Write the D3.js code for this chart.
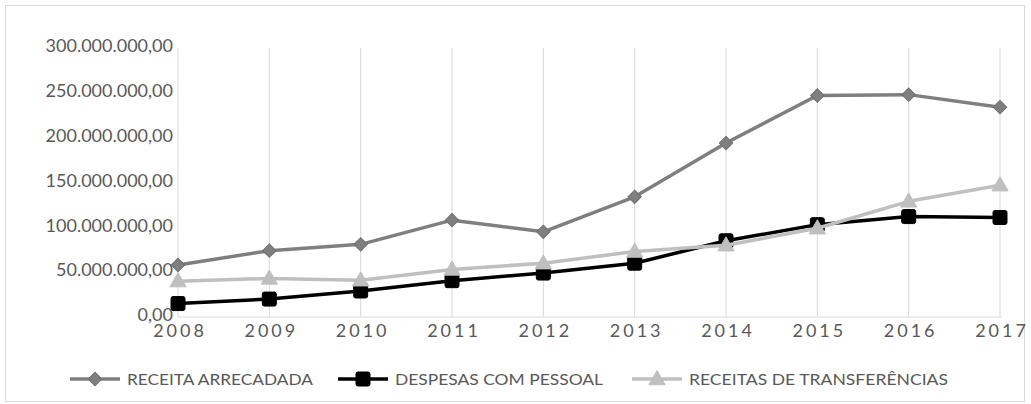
<!DOCTYPE html>
<html><head><meta charset="utf-8">
<script src="https://cdn.jsdelivr.net/npm/d3@7"></script>
<style>
html,body{margin:0;padding:0;background:#fff;}
svg{display:block;}
text{font-family:Lato, "Open Sans", sans-serif;}
</style></head>
<body>
<svg id="c" width="1031" height="404"></svg>
<script>
const years = ["2008","2009","2010","2011","2012","2013","2014","2015","2016","2017"];
const receitaArrecadada = [58, 74, 81, 108, 95, 134, 194, 247, 248, 234].map(v => v * 1e6);
const despesasPessoal   = [15, 20, 29, 40.5, 49, 60, 85, 103, 112, 111].map(v => v * 1e6);
const receitasTransf    = [40, 43, 41, 53, 60, 73, 80, 99, 129, 147].map(v => v * 1e6);
const yTicks = [0, 50e6, 100e6, 150e6, 200e6, 250e6, 300e6];
const seriesNames = ["RECEITA ARRECADADA", "DESPESAS COM PESSOAL", "RECEITAS DE TRANSFERÊNCIAS"];

const series = [
  {name: seriesNames[0], values: receitaArrecadada, color: "#7f7f7f", width: 3.5, marker: "diamond", mcolor: "#7f7f7f"},
  {name: seriesNames[1], values: despesasPessoal, color: "#000000", width: 3.5, marker: "square", mcolor: "#000000"},
  {name: seriesNames[2], values: receitasTransf, color: "#bfbfbf", width: 3.5, marker: "triangle", mcolor: "#bfbfbf"}
];

const svg = d3.select("#c");
svg.append("rect").attr("x", 5.5).attr("y", 5.5).attr("width", 1019).attr("height", 396)
  .attr("fill", "#fff").attr("stroke", "#d9d9d9").attr("stroke-width", 1);

const x = d3.scalePoint().domain(years).range([178, 1000]);
const y = d3.scaleLinear().domain([0, 300e6]).range([317, 48]);

const fmt = v => {
  const s = d3.format(",.2f")(v);
  return s.replace(/,/g, "#").replace(".", ",").replace(/#/g, ".");
};

svg.append("g").selectAll("line").data(years).join("line")
  .attr("x1", d => x(d)).attr("x2", d => x(d))
  .attr("y1", y(300e6)).attr("y2", y(0))
  .attr("stroke", "#d9d9d9").attr("stroke-width", 1);

svg.append("line").attr("x1", x(years[0])).attr("x2", x(years[years.length-1]) + 2)
  .attr("y1", y(0)).attr("y2", y(0)).attr("stroke", "#d9d9d9").attr("stroke-width", 1);

const yAxis = d3.axisLeft(y).tickValues(yTicks).tickFormat(fmt).tickSize(0).tickPadding(0);
const gy = svg.append("g").attr("transform", "translate(173,-2)").call(yAxis);
gy.select(".domain").remove();
gy.selectAll("text").attr("fill", "#595959").style("font-size", "18px")
  .style("font-family", "Lato, sans-serif").attr("dy", "0.32em");

const xAxis = d3.axisBottom(x).tickSize(0).tickPadding(0);
const gx = svg.append("g").attr("transform", "translate(0,324)").call(xAxis);
gx.select(".domain").remove();
gx.selectAll("text").attr("fill", "#595959").style("font-size", "18px")
  .style("font-family", "Lato, sans-serif").style("letter-spacing", "3px")
  .attr("dy", "0.71em").attr("dx", "1.5px");

function drawMarker(g, m, cx, cy, color) {
  if (m === "square") {
    g.append("rect").attr("x", cx - 7).attr("y", cy - 7).attr("width", 14).attr("height", 14)
      .attr("rx", 2).attr("fill", color).attr("stroke", color).attr("stroke-width", 1);
  } else if (m === "diamond") {
    g.append("path").attr("d", d3.symbol().type(d3.symbolSquare).size(90)())
      .attr("transform", `translate(${cx},${cy}) rotate(45)`)
      .attr("fill", color).attr("stroke", "#6f6f6f").attr("stroke-width", 1);
  } else {
    g.append("path").attr("d", d3.symbol().type(d3.symbolTriangle).size(115)())
      .attr("transform", `translate(${cx},${cy + 1})`)
      .attr("fill", color).attr("stroke", color).attr("stroke-width", 1);
  }
}

const line = d3.line().x((d, i) => x(years[i])).y(d => y(d));

series.forEach(s => {
  const g = svg.append("g");
  g.append("path").datum(s.values).attr("d", line)
    .attr("fill", "none").attr("stroke", s.color).attr("stroke-width", s.width)
    .attr("stroke-linejoin", "round");
  s.values.forEach((v, i) => drawMarker(g, s.marker, x(years[i]), y(v), s.mcolor));
});

const legendX = [70, 338, 632];
const legendW = [186, 208, 259];
const ly = 379;
series.forEach((s, i) => {
  const g = svg.append("g");
  g.append("line").attr("x1", legendX[i]).attr("x2", legendX[i] + 50)
    .attr("y1", ly).attr("y2", ly).attr("stroke", s.color).attr("stroke-width", s.width);
  drawMarker(g, s.marker, legendX[i] + 25, ly, s.mcolor);
  g.append("text").attr("x", legendX[i] + 57).attr("y", ly).attr("dy", "0.36em")
    .attr("fill", "#595959").style("font-size", "16px")
    .attr("textLength", legendW[i]).attr("lengthAdjust", "spacingAndGlyphs")
    .text(s.name);
});
</script>
</body></html>
